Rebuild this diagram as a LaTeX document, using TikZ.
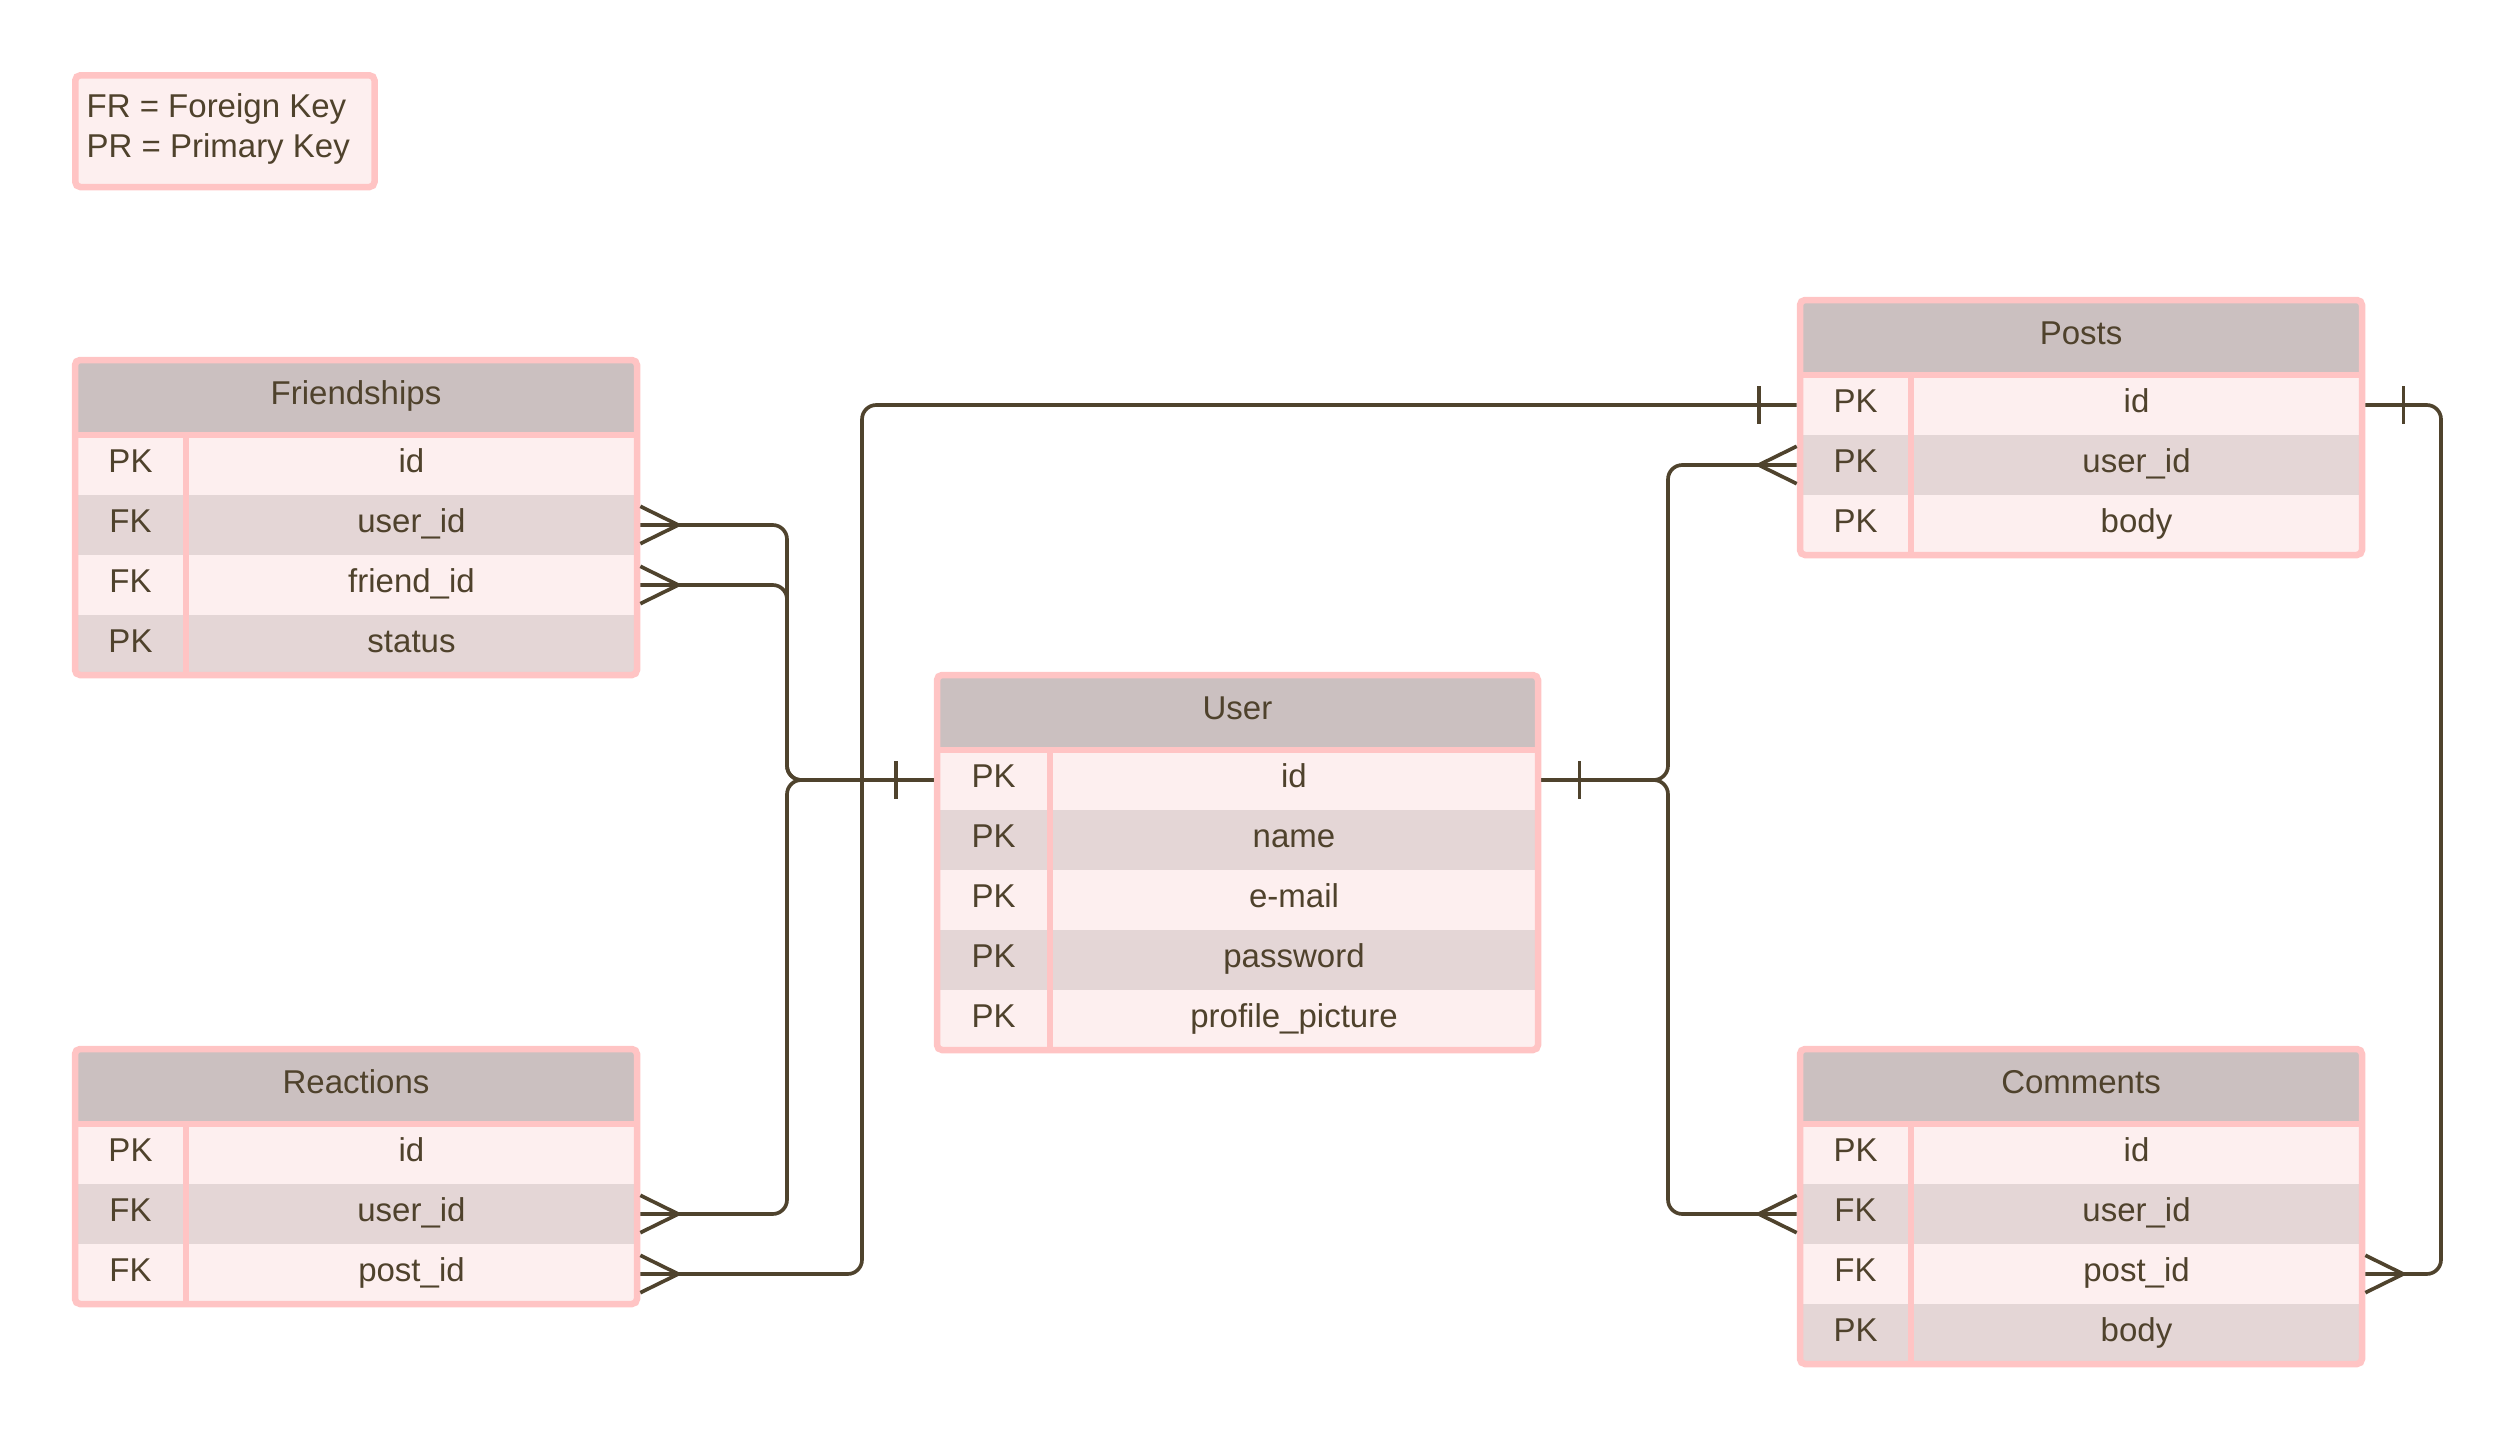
\documentclass[tikz,border=0pt]{standalone}
\usepackage{fontspec}
\setmainfont{Liberation Sans}
\definecolor{bdcol}{HTML}{FFC4C4}
\definecolor{hdcol}{HTML}{CBC0C0}
\definecolor{rowA}{HTML}{FDEFEF}
\definecolor{rowB}{HTML}{E4D6D6}
\definecolor{txcol}{HTML}{4F422C}
\definecolor{lncol}{HTML}{4F432D}
\tikzset{
  bd/.style={draw=bdcol, line width=1.95pt},
  hdrbox/.style={rectangle, fill=hdcol, inner sep=0pt, outer sep=0pt},
  rowbox/.style={rectangle, inner sep=0pt, outer sep=0pt, minimum height=18pt},
  txt/.style={text=txcol, font=\fontsize{9.9}{11.9}\selectfont, inner sep=0pt, anchor=base},
  lnk/.style={draw=lncol, line width=1.1pt},
  conn/.style={lnk, rounded corners=4.3pt},
}
% #1 name, #2 L, #3 R, #4 T, #5 H, #6 B, #7 K, #8 title, #9 rows
\newcommand\ertable[9]{%
  \node[hdrbox, minimum width={(#3-#2)*0.3pt}, minimum height={(#5-#4)*0.3pt}] (#1-h) at ({(#2+#3)/2},{(#4+#5)/2}) {};
  \node[txt] (#1-ht) at ({(#2+#3)/2},{(#4+#5)/2+7}) {#8};
  \foreach \kk/\nn/\cc [count=\ii] in {#9} {
    \node[rowbox, fill=\cc, minimum width={(#3-#2)*0.3pt}] (#1-\ii) at ({(#2+#3)/2},{#5+(\ii-0.5)*60}) {};
    \node[txt] (#1-\ii-k) at ({(#2+#7)/2},{#5+(\ii-0.5)*60+7.5}) {\kk};
    \node[txt] (#1-\ii-n) at ({(#7+#3)/2},{#5+(\ii-0.5)*60+7.5}) {\nn};
  }
  \draw[bd] (#7,#5) -- (#7,#6);
  \draw[bd] (#2,#5) -- (#3,#5);
  \draw[bd, rounded corners=1.5pt] (#2,#4) rectangle (#3,#6);
}
\newcommand\crowE[1]{\draw[lnk] ([xshift=1pt,yshift=5.6pt]#1.east) -- ([xshift=12.4pt]#1.east) -- ([xshift=1pt,yshift=-5.6pt]#1.east);}
\newcommand\crowW[1]{\draw[lnk] ([xshift=-1pt,yshift=5.6pt]#1.west) -- ([xshift=-12.4pt]#1.west) -- ([xshift=-1pt,yshift=-5.6pt]#1.west);}
\newcommand\barE[1]{\draw[lnk] ([xshift=12.4pt,yshift=5.7pt]#1.east) -- ([xshift=12.4pt,yshift=-5.7pt]#1.east);}
\newcommand\barW[1]{\draw[lnk] ([xshift=-12.4pt,yshift=5.7pt]#1.west) -- ([xshift=-12.4pt,yshift=-5.7pt]#1.west);}
\begin{document}
\begin{tikzpicture}[x=0.3pt,y=-0.3pt]
\useasboundingbox (0,0) rectangle (2516,1440);
% legend
\node[draw=bdcol, fill=rowA, line width=1.95pt, rounded corners=1.5pt, inner sep=0pt,
      minimum width={(374.5-75.3)*0.3pt}, minimum height={(187-75.3)*0.3pt}] (leg) at (224.9,131.15) {};
\node[txt, anchor=base west] (leg1) at (86,117.3) {FR = Foreign Key};
\node[txt, anchor=base west] (leg2) at (86,157.7) {PR = Primary Key};
% tables
\ertable{fr}{75}{637}{360}{435}{675}{186}{Friendships}{PK/id/rowA, FK/user\_id/rowB, FK/friend\_id/rowA, PK/status/rowB}
\ertable{re}{75}{637}{1049}{1124}{1304}{186}{Reactions}{PK/id/rowA, FK/user\_id/rowB, FK/post\_id/rowA}
\ertable{us}{937}{1538}{675}{750}{1050}{1050}{User}{PK/id/rowA, PK/name/rowB, PK/e-mail/rowA, PK/password/rowB, PK/profile\_picture/rowA}
\ertable{po}{1800}{2362}{300}{375}{555}{1911}{Posts}{PK/id/rowA, PK/user\_id/rowB, PK/body/rowA}
\ertable{co}{1800}{2362}{1049}{1124}{1364}{1911}{Comments}{PK/id/rowA, FK/user\_id/rowB, FK/post\_id/rowA, PK/body/rowB}
% routing columns
\coordinate (vA) at (787,0);
\coordinate (vB) at (862,0);
\coordinate (vC) at (1668,0);
\coordinate (vD) at (2441,0);
% connectors
\draw[conn] ([xshift=1pt]fr-2.east) -- (fr-2.east -| vA) |- ([xshift=-1pt]us-1.west);
\draw[conn] ([xshift=1pt]fr-3.east) -- (fr-3.east -| vA) |- ([xshift=-1pt]us-1.west);
\draw[conn] ([xshift=1pt]re-2.east) -- (re-2.east -| vA) |- ([xshift=-1pt]us-1.west);
\draw[conn] ([xshift=1pt]re-3.east) -- (re-3.east -| vB) |- ([xshift=-1pt]po-1.west);
\draw[conn] ([xshift=1pt]us-1.east) -- (us-1.east -| vC) |- ([xshift=-1pt]po-2.west);
\draw[conn] ([xshift=1pt]us-1.east) -- (us-1.east -| vC) |- ([xshift=-1pt]co-2.west);
\draw[conn] ([xshift=1pt]po-1.east) -- (po-1.east -| vD) |- ([xshift=1pt]co-3.east);
% ends
\crowE{fr-2}
\crowE{fr-3}
\crowE{re-2}
\crowE{re-3}
\crowW{po-2}
\crowW{co-2}
\crowE{co-3}
\barW{us-1}
\barE{us-1}
\barW{po-1}
\barE{po-1}
\end{tikzpicture}
\end{document}
